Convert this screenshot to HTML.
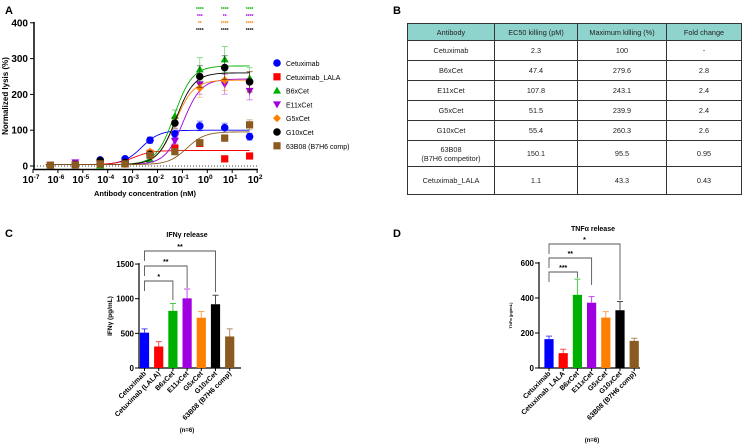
<!DOCTYPE html>
<html><head><meta charset="utf-8"><style>
body{margin:0;background:#fff;width:747px;height:445px;overflow:hidden;font-family:"Liberation Sans",Arial,sans-serif}
svg{position:absolute;left:0;top:0}
table{position:absolute;left:407px;top:23px;width:335px;border-collapse:collapse;font-size:7.3px;color:#222;text-align:center}
td,th{border:0.8px solid #333;padding:0;font-weight:normal}
th{background:#8fd3cd;height:16px}
</style></head><body>
<svg id="s" width="747" height="445"></svg>
<table>
<tr style="height:16px"><th style="width:86px">Antibody</th><th style="width:82px">EC50 killing (pM)</th><th style="width:88px">Maximum killing (%)</th><th>Fold change</th></tr>
<tr style="height:20px"><td>Cetuximab</td><td>2.3</td><td>100</td><td>-</td></tr>
<tr style="height:20px"><td>B6xCet</td><td>47.4</td><td>279.6</td><td>2.8</td></tr>
<tr style="height:20px"><td>E11xCet</td><td>107.8</td><td>243.1</td><td>2.4</td></tr>
<tr style="height:20px"><td>G5xCet</td><td>51.5</td><td>239.9</td><td>2.4</td></tr>
<tr style="height:20px"><td>G10xCet</td><td>55.4</td><td>260.3</td><td>2.6</td></tr>
<tr style="height:26px"><td>63B08<br>(B7H6 competitor)</td><td>150.1</td><td>95.5</td><td>0.95</td></tr>
<tr style="height:28px"><td>Cetuximab_LALA</td><td>1.1</td><td>43.3</td><td>0.43</td></tr>
</table>
<script>
const seriesNames=["Cetuximab","Cetuximab_LALA","B6xCet","E11xCet","G5xCet","G10xCet","63B08 (B7H6 comp)"];
const seriesColors=["#0000ff","#ff0000","#00b000","#a000e0","#ff8000","#000000","#8b5a1e"];
const concs=[5e-7,5e-6,5e-5,5e-4,5e-3,5e-2,0.5,5,50];
const lysisCet=[2,4,17,20,72,90,112,107,82];
const lysisLala=[2,3,5,8,35,50,63,20,28];
const lysisB6=[1,2,1,5,18,140,270,298,245];
const lysisE11=[3,10,5,8,30,70,228,228,210];
const lysisG5=[2,5,6,5,40,120,218,240,235];
const lysisG10=[1,4,15,10,33,120,250,275,235];
const lysis63=[2,3,6,6,30,40,65,78,115];
const fitTop=[100,43.3,279.6,243.1,239.9,260.3,95.5];
const fitEC50=[0.0023,0.0011,0.0474,0.1078,0.0515,0.0554,0.1501];
const yTicksA=[0,100,200,300,400];
const barCatsC=["Cetuximab","Cetuximab (LALA)","B6xCet","E11xCet","G5xCet","G10xCet","63B08 (B7H6 comp)"];
const ifnVals=[510,310,825,1005,725,920,455];
const ifnErr=[55,70,105,135,90,130,110];
const barCatsD=["Cetuximab","Cetuximab_LALA","B6xCet","E11xCet","G5xCet","G10xCet","63B08 (B7H6 comp)"];
const tnfVals=[165,85,418,373,288,330,155];
const tnfErr=[17,22,90,35,34,50,15];
const yTicksC=[0,500,1000,1500];
const yTicksD=[0,200,400,600];
const S=document.getElementById('s');const NS="http://www.w3.org/2000/svg";
function el(t,a,txt,p){const e=document.createElementNS(NS,t);for(const k in a)e.setAttribute(k,a[k]);if(txt!=null)e.textContent=txt;(p||S).appendChild(e);return e;}
function T(x,y,s,fs,o){o=o||{};const e=el('text',Object.assign({x:x,y:y,'font-size':fs,'font-weight':o.w||'bold','text-anchor':o.a||'middle',fill:o.f||'#000'},o.x||{}),s);return e;}
T(5,14,"A",11,{a:'start',n:'panel-a-label'});T(393,14,"B",11,{a:'start',n:'panel-b-label'});
T(5,237,"C",11,{a:'start',n:'panel-c-label'});T(393,237,"D",11,{a:'start',n:'panel-d-label'});
const ax=v=>33+(Math.log10(v)+7)*24.9, ay=v=>166-v*0.358;
el('line',{x1:34,y1:22,x2:34,y2:170,stroke:'#000','stroke-width':1.5});
el('line',{x1:34,y1:169.5,x2:258,y2:169.5,stroke:'#000','stroke-width':1.5});
el('line',{x1:34,y1:166,x2:258,y2:166,stroke:'#000','stroke-width':0.8,'stroke-dasharray':'1,2'});
yTicksA.forEach(v=>{el('line',{x1:30,y1:ay(v),x2:34,y2:ay(v),stroke:'#000'});T(28,ay(v)+3.5,v,10,{a:'end',n:'y-tick-a'});});
for(let d=-7;d<=2;d++){const x=ax(Math.pow(10,d));el('line',{x1:x,y1:169,x2:x,y2:173,stroke:'#000'});const t=T(x-2,183,"10",10,{n:'x-tick-a'});el('tspan',{dy:-4,'font-size':6.5},d,t);}
T(145,196,"Antibody concentration (nM)",7.5,{n:'x-axis-title-a'});
T(0,0,"Normalized lysis (%)",8,{n:'y-axis-title-a',x:{transform:'translate(8,96) rotate(-90)'}});
const allData=[lysisCet,lysisLala,lysisB6,lysisE11,lysisG5,lysisG10,lysis63];
function marker(i,x,y,p){const c=seriesColors[i];let m;
 if(i==0||i==5)m=el('circle',{cx:x,cy:y,r:3.8,fill:c},null,p);
 else if(i==1||i==6)m=el('rect',{x:x-3.6,y:y-3.6,width:7.2,height:7.2,fill:c},null,p);
 else if(i==2)m=el('path',{d:`M${x},${y-4}L${x+4},${y+3}L${x-4},${y+3}Z`,fill:c},null,p);
 else if(i==3)m=el('path',{d:`M${x},${y+4}L${x+4},${y-3}L${x-4},${y-3}Z`,fill:c},null,p);
 else m=el('path',{d:`M${x},${y-4}L${x+4},${y}L${x},${y+4}L${x-4},${y}Z`,fill:c},null,p);
 }
allData.forEach((arr,i)=>{const g=el('g',{});
 let d='';for(let k=0;k<=120;k++){const lx=-6.5+k*8.2/120,v=Math.pow(10,lx);const y=4+(fitTop[i]-4)/(1+Math.pow(fitEC50[i]/v,1.2));d+=(k?'L':'M')+ax(v).toFixed(1)+','+ay(y).toFixed(1);}
 el('path',{d:d,fill:'none',stroke:seriesColors[i],'stroke-width':0.9},null,g);
 arr.forEach((v,k)=>{const x=ax(concs[k]),y=ay(v),e=Math.max(4,v*0.12);el('path',{d:`M${x},${ay(v-e)}V${ay(v+e)}M${x-3},${ay(v+e)}h6M${x-3},${ay(v-e)}h6`,stroke:seriesColors[i],'stroke-width':0.7,opacity:0.6},null,g);marker(i,x,y,g);});
});
const starCols=["#00b000","#a000e0","#ff8000","#000"],starTxt=[["****","****","****"],["***","**","****"],["**","****","****"],["****","****","****"]];
[0.5,5,50].forEach((c,j)=>starTxt.forEach((r,i)=>T(ax(c),11+i*7,r[j],5,{f:starCols[i],n:'significance-stars'})));
seriesNames.forEach((n,i)=>{const y=63+i*13.8;marker(i,277,y);T(286,y+3,n,7,{a:'start',w:'normal',n:'legend-entry'});});
function bars(x0,axisX,axisEnd,y0,scale,cats,vals,errs,ticks,title,tx,ty,ylab,ylfs,brk,n){
 const by=v=>y0-v*scale, bx=i=>x0+i*14.2;
 el('line',{x1:axisX,y1:by(ticks[ticks.length-1])-1,x2:axisX,y2:y0+0.5,stroke:'#000','stroke-width':1.2});
 el('line',{x1:axisX,y1:y0,x2:axisEnd,y2:y0,stroke:'#000','stroke-width':1.2});
 ticks.forEach(v=>{el('line',{x1:axisX-4,y1:by(v),x2:axisX,y2:by(v),stroke:'#000'});T(axisX-5,by(v)+3,v,8,{a:'end',n:'y-tick'});});
 T(tx,ty,title,7,{n:'chart-title'});
 T(0,0,ylab,ylfs,{n:'y-axis-title',x:{transform:`translate(${axisX-27},${(y0+by(ticks[ticks.length-1]))/2}) rotate(-90)`}});
 vals.forEach((v,i)=>{const x=bx(i),c=seriesColors[i];
  el('path',{d:`M${x},${by(v)}V${by(v+errs[i])}M${x-3},${by(v+errs[i])}h6`,stroke:c,'stroke-width':1,opacity:0.7});
  const r=el('rect',{x:x-4.6,y:by(v),width:9.2,height:v*scale,fill:c});
  el('line',{x1:x,y1:y0,x2:x,y2:y0+3,stroke:'#000'});
  T(0,0,cats[i],7,{a:'end',n:'x-tick-label',x:{transform:`translate(${x+2},${y0+6}) rotate(-45)`}});});
 brk.forEach(b=>{const x2=bx(b[0]);el('path',{d:`M${bx(0)},${b[1]+10}V${b[1]}H${x2}V${b[2]}`,fill:'none',stroke:'#555','stroke-width':0.9});T((bx(0)+x2)/2,b[1]-2,b[3],7,{n:'significance-bracket'});});
 T(n[0],n[1],"(n=6)",6,{n:'n-label'});
}
bars(144.5,139,241,368,0.0693,barCatsC,ifnVals,ifnErr,yTicksC,"IFNγ release",187,237,"IFNγ (pg/mL)",6.5,[[5,251,292,"**"],[3,266,288,"**"],[2,281,300,"*"]],[187,432]);
bars(549,539,640,368,0.175,barCatsD,tnfVals,tnfErr,yTicksD,"TNFα release",593,231,"TNFα (pg/mL)",4,[[5,244,300,"*"],[3,258,285,"**"],[2,272,278,"***"]],[592,442]);
</script>
</body></html>
